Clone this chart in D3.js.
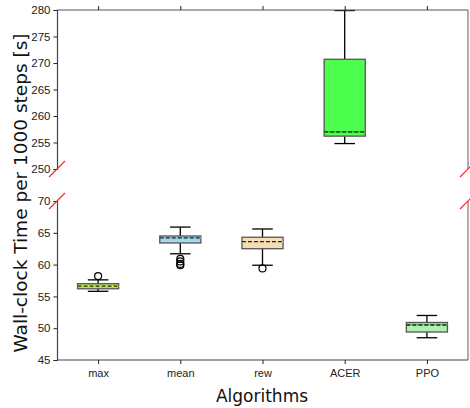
<!DOCTYPE html>
<html><head><meta charset="utf-8">
<script src="https://cdn.jsdelivr.net/npm/d3@7"></script>
<style>body{margin:0;background:#fff}svg{display:block;font-family:"DejaVu Sans",sans-serif}</style>
</head><body><svg id="c" width="470" height="408"></svg>
<script>
const categories = ["max","mean","rew","ACER","PPO"];
const q1 =      [56.2, 63.4, 62.5, 256.2, 49.4];
const q3 =      [57.0, 64.5, 64.3, 270.7, 50.9];
const medians = [56.6, 64.2, 63.6, 257.0, 50.6];
const means =   [56.6, 64.2, 63.6, 257.0, 50.5];
const whiskLo = [55.8, 61.7, 59.9, 254.8, 48.5];
const whiskHi = [57.6, 65.9, 65.6, 279.9, 52.0];
const outliers = [[58.2],[60.9,60.5,60.1,59.9],[59.4],[],[]];
const fills = ["#bde35a","#a8d5e8","#f5deb3","#4dff4d","#aef0ae"];
const medColors = ["#ccff33","#87ceeb","#f5deb3","#33cc33","#66cc66"];
const topTicks = [250,255,260,265,270,275,280];
const botTicks = [45,50,55,60,65,70];

const svg = d3.select("#c");
const L = 57, R = 468;
const x = d3.scaleLinear().domain([0.5,5.5]).range([L,R]);
const yTop = d3.scaleLinear().domain([250,280]).range([169,10]);
const yBot = d3.scaleLinear().domain([45,70]).range([360,201]);

const panels = [{y:yTop, ticks:topTicks, top:true},{y:yBot, ticks:botTicks, top:false}];
panels.forEach(p=>{
  const g = svg.append("g");
  const y = p.y;
  const clipId = p.top ? "clipT" : "clipB";
  svg.append("clipPath").attr("id",clipId).append("rect")
    .attr("x",L).attr("y",y.range()[1]).attr("width",R-L).attr("height",y.range()[0]-y.range()[1]);
  const marks = g.append("g").attr("clip-path",`url(#${clipId})`);
  categories.forEach((c,i)=>{
    const cx = x(i+1), bw = x(1.25)-x(1), cw = x(1.125)-x(1);
    const gg = marks.append("g");
    gg.append("line").attr("x1",cx).attr("x2",cx).attr("y1",y(q3[i])).attr("y2",y(whiskHi[i])).attr("stroke","#000").attr("stroke-width",1.3);
    gg.append("line").attr("x1",cx).attr("x2",cx).attr("y1",y(q1[i])).attr("y2",y(whiskLo[i])).attr("stroke","#000").attr("stroke-width",1.3);
    gg.append("line").attr("x1",cx-cw).attr("x2",cx+cw).attr("y1",y(whiskHi[i])).attr("y2",y(whiskHi[i])).attr("stroke","#000").attr("stroke-width",1.3);
    gg.append("line").attr("x1",cx-cw).attr("x2",cx+cw).attr("y1",y(whiskLo[i])).attr("y2",y(whiskLo[i])).attr("stroke","#000").attr("stroke-width",1.3);
    gg.append("rect").attr("x",cx-bw).attr("width",2*bw).attr("y",y(q3[i])).attr("height",y(q1[i])-y(q3[i]))
      .attr("fill",fills[i]).attr("stroke","#555").attr("stroke-width",1.3);
    gg.append("line").attr("x1",cx-bw).attr("x2",cx+bw).attr("y1",y(medians[i])).attr("y2",y(medians[i])).attr("stroke",medColors[i]).attr("stroke-width",1.5);
    gg.append("line").attr("x1",cx-bw).attr("x2",cx+bw).attr("y1",y(means[i])).attr("y2",y(means[i])).attr("stroke","#222").attr("stroke-width",1.3).attr("stroke-dasharray","4,2");
    outliers[i].forEach(o=>{
      gg.append("circle").attr("cx",cx).attr("cy",y(o)).attr("r",3.5).attr("fill","none").attr("stroke","#000").attr("stroke-width",1.2);
    });
  });
  const ya = g.append("g").attr("transform",`translate(${L},0)`).call(d3.axisLeft(y).tickValues(p.ticks).tickSize(3.5).tickPadding(3));
  ya.select(".domain").attr("stroke","#444").attr("stroke-width",1.2);
  ya.selectAll("text").attr("font-size",11.5).attr("fill","#222");
  ya.selectAll(".tick line").attr("stroke","#222");
  g.append("line").attr("x1",R).attr("x2",R).attr("y1",y.range()[0]).attr("y2",y.range()[1]).attr("stroke","#777").attr("stroke-width",1.2);
  if(p.top){
    const xa = g.append("g").attr("transform",`translate(0,${y.range()[1]})`).call(d3.axisTop(x).tickValues([1,2,3,4,5]).tickSize(4).tickFormat(""));
    xa.select(".domain").attr("stroke","#555").attr("stroke-width",1.2).attr("d",`M${L},0H${R}`);
    xa.selectAll(".tick line").attr("stroke","#222");
  } else {
    const xa = g.append("g").attr("transform",`translate(0,${y.range()[0]})`).call(d3.axisBottom(x).tickValues([1,2,3,4,5]).tickSize(4).tickPadding(5).tickFormat((d)=>categories[d-1]));
    xa.select(".domain").attr("stroke","#444").attr("stroke-width",1.2).attr("d",`M${L},0H${R}`);
    xa.selectAll("text").attr("font-size",11).attr("fill","#222");
    xa.selectAll(".tick line").attr("stroke","#222");
  }
});
[[L,169],[R,169],[L,201],[R,201]].forEach(([px,py])=>{
  svg.append("line").attr("x1",px-8).attr("y1",py+8).attr("x2",px+8).attr("y2",py-8).attr("stroke","#ff2020").attr("stroke-width",1.1);
});
svg.append("text").attr("transform","translate(27,193) rotate(-90)").attr("text-anchor","middle")
  .attr("font-size",18.5).attr("fill","#111").text("Wall-clock Time per 1000 steps [s]");
svg.append("text").attr("x",262).attr("y",402).attr("text-anchor","middle").attr("font-size",17).attr("fill","#111").text("Algorithms");
</script></body></html>
